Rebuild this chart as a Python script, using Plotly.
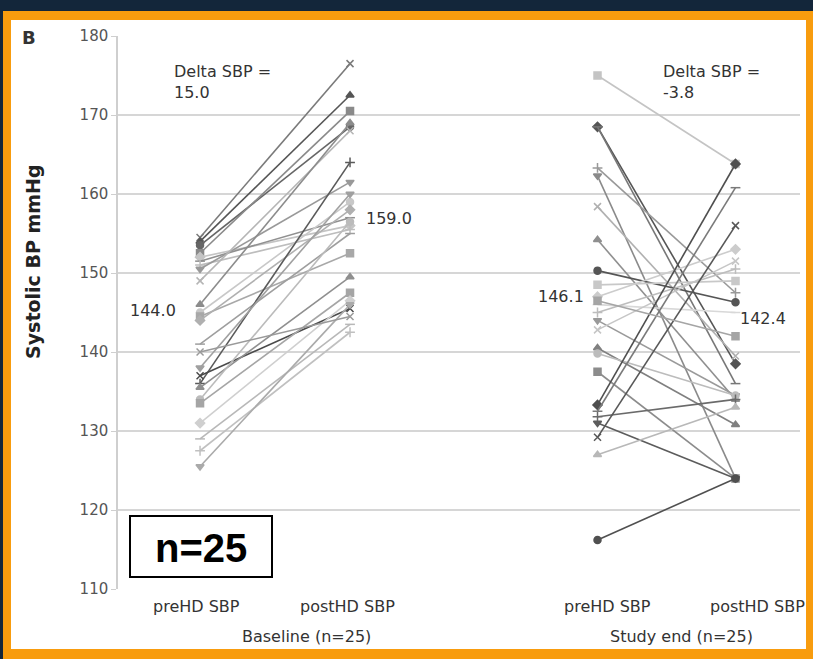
import plotly.graph_objects as go

# ---- data (mmHg) ----
categories = ["preHD SBP", "postHD SBP", "preHD SBP", "postHD SBP"]
groups = ["Baseline (n=25)", "Study end (n=25)"]

baseline_pre = [154.5, 154.0, 153.5, 152.5, 152.0, 151.5, 151.0, 150.5, 149.0, 146.0,
                145.0, 144.5, 144.0, 141.0, 136.0, 138.0, 137.0, 135.5, 134.0, 133.5,
                131.0, 129.0, 127.5, 125.5, 140.0]
baseline_post = [176.5, 172.5, 168.5, 170.5, 156.0, 157.0, 155.5, 161.5, 168.0, 169.0,
                 159.0, 152.5, 158.0, 155.0, 164.0, 160.0, 145.5, 149.5, 156.5, 147.5,
                 146.5, 143.5, 142.5, 146.0, 144.5]

end_pre = [175.0, 168.5, 168.5, 163.3, 162.3, 158.4, 154.2, 150.3, 148.5, 147.0,
           146.0, 145.0, 144.0, 142.8, 140.5, 139.8, 137.5, 133.3, 132.5, 131.8,
           131.0, 129.2, 127.0, 116.2, 146.5]
end_post = [163.8, 138.5, 136.0, 147.5, 124.0, 139.5, 134.0, 146.3, 149.0, 153.0,
            145.0, 150.5, 134.5, 151.5, 130.8, 134.5, 124.0, 163.8, 160.8, 134.0,
            124.0, 156.0, 133.0, 124.0, 142.0]

means_baseline = ["144.0", "159.0"]
means_end = ["146.1", "142.4"]
delta_baseline = "15.0"
delta_end = "-3.8"
y_ticks = [110, 120, 130, 140, 150, 160, 170, 180]

# ---- styling ----
x_pos = [0, 1, 2.65, 3.57]
grays = ["#7a7a7a", "#555555", "#666666", "#8a8a8a", "#c4c4c4", "#909090", "#bdbdbd",
         "#999999", "#b5b5b5", "#8c8c8c", "#c8c8c8", "#a8a8a8", "#b0b0b0", "#9e9e9e",
         "#5a5a5a", "#a0a0a0", "#4a4a4a", "#8f8f8f", "#bbbbbb", "#a5a5a5",
         "#cfcfcf", "#b8b8b8", "#c0c0c0", "#aaaaaa", "#9a9a9a"]
end_colors = ["#c4c4c4", "#555555", "#777777", "#999999", "#8a8a8a", "#b0b0b0",
              "#8f8f8f", "#555555", "#c8c8c8", "#cccccc", "#d8d8d8", "#bdbdbd",
              "#9a9a9a", "#c6c6c6", "#808080", "#bcbcbc", "#8c8c8c", "#4f4f4f",
              "#7a7a7a", "#6a6a6a", "#5c5c5c", "#585858", "#b8b8b8", "#505050",
              "#a5a5a5"]
symbols = ["x-thin", "triangle-up", "circle", "square", "diamond", "line-ew",
           "cross-thin", "triangle-down"]

fig = go.Figure()

def add_pairs(pre, post, xa, xb, colors, offset):
    for i, (a, b) in enumerate(zip(pre, post)):
        c = colors[i % len(colors)]
        s = symbols[(i + offset) % len(symbols)]
        fig.add_trace(go.Scatter(
            x=[xa, xb], y=[a, b], mode="lines+markers",
            line=dict(color=c, width=1.6),
            marker=dict(color=c, size=7, symbol=s,
                        line=dict(color=c, width=1.5)),
            showlegend=False, hoverinfo="y"))

add_pairs(baseline_pre, baseline_post, x_pos[0], x_pos[1], grays, 0)
add_pairs(end_pre, end_post, x_pos[2], x_pos[3], end_colors, 3)

# ---- background frame ----
L, R, T, B = 118, 13, 36, 70
W, H = 813, 659
pw, ph = W - L - R, H - T - B

def px(x):
    return (x - L) / pw

def py(y):
    return (H - B - y) / ph

shapes = [
    dict(type="rect", xref="paper", yref="paper", layer="below",
         x0=px(3), x1=px(813), y0=py(659), y1=py(11),
         fillcolor="#f89c0e", line=dict(width=0)),
    dict(type="rect", xref="paper", yref="paper", layer="below",
         x0=px(11), x1=px(806), y0=py(649), y1=py(20),
         fillcolor="white", line=dict(width=0)),
    # n=25 box
    dict(type="rect", xref="paper", yref="paper", layer="above",
         x0=px(130), x1=px(272), y0=py(577), y1=py(516),
         fillcolor="white", line=dict(color="black", width=2)),
]

txt = dict(family="DejaVu Sans", size=16, color="#333333")
lab = dict(family="DejaVu Sans", size=16, color="#333333")


def note(xp, yp, text, font, xa="center", ya="middle", **kw):
    return dict(x=px(xp), y=py(yp), xref="paper", yref="paper", text=text,
                showarrow=False, xanchor=xa, yanchor=ya, font=font, **kw)


ann = []
for c, p in zip(categories, [196, 347, 607, 757]):
    ann.append(note(p, 606, c, lab))
for g, p in zip(groups, [306, 681]):
    ann.append(note(p, 636, g, lab))
ann.append(note(172, 60, "Delta SBP =<br>" + delta_baseline, txt, xa="left", ya="top", align="left"))
ann.append(note(661, 60, "Delta SBP =<br>" + delta_end, txt, xa="left", ya="top", align="left"))
ann.append(note(178, 310, means_baseline[0], txt, xa="right"))
ann.append(note(364, 218, means_baseline[1], txt, xa="left"))
ann.append(note(586, 296, means_end[0], txt, xa="right"))
ann.append(note(738, 318, means_end[1], txt, xa="left"))
ann.append(note(33, 262, "<b>Systolic BP mmHg</b>",
                dict(family="DejaVu Sans", size=19, color="#222"), textangle=-90))
ann.append(note(29, 38, "<b>B</b>", dict(family="DejaVu Sans", size=18, color="#333")))
ann.append(note(201, 548, "<b>n=25</b>",
                dict(family="Liberation Sans", size=40, color="black")))

fig.update_layout(
    width=W, height=H,
    margin=dict(l=L, r=R, t=T, b=B),
    paper_bgcolor="#13263a",
    plot_bgcolor="rgba(0,0,0,0)",
    shapes=shapes,
    annotations=ann,
    showlegend=False,
    xaxis=dict(range=[-0.547, 4.0], showgrid=False, zeroline=False,
               showticklabels=False, ticks="", showline=False),
    yaxis=dict(range=[110, 180], tickvals=y_ticks, showgrid=True,
               gridcolor="#d6d6d6", gridwidth=2, zeroline=False,
               showline=True, linecolor="#cfcfcf", linewidth=1.5,
               ticks="outside", ticklen=5, tickcolor="#cfcfcf",
               tickfont=dict(family="DejaVu Sans", size=15, color="#555")),
)

fig.write_html("out.html", config={"displayModeBar": False},
               post_script="document.body.style.margin='0';document.body.style.background='#13263a';")
